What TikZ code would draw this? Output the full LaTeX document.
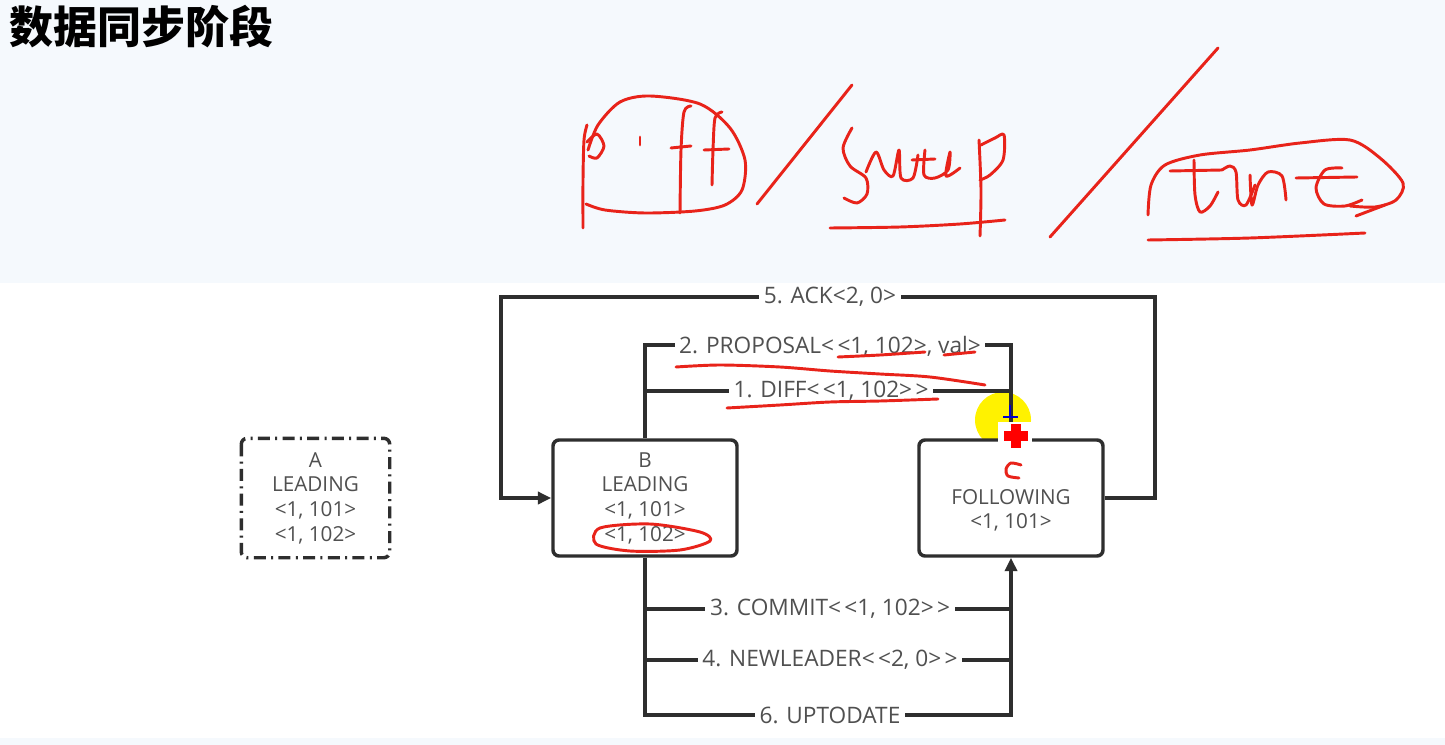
\documentclass[tikz,border=0pt]{standalone}
\usepackage{fontspec}
\setmainfont{Open Sans}
\newfontfamily\cjk{Noto Sans CJK SC}
\usetikzlibrary{arrows.meta}
\definecolor{ln}{HTML}{2E2E2E}
\definecolor{tx}{HTML}{505050}
\definecolor{topbg}{HTML}{F5F9FD}
\definecolor{pen}{HTML}{E8231A}
\definecolor{hl}{HTML}{FFF200}
\newcommand{\lla}{<\kern2.5pt<}
\newcommand{\rra}{>\kern2.5pt>}
\begin{document}
\begin{tikzpicture}[x=0.75pt,y=-0.75pt,
  conn/.style={draw=ln,line width=2.6pt},
  tip/.style={-{Triangle[length=10pt,width=9pt]}},
  box/.style={draw=ln,line width=2.6pt,rounded corners=4.5pt,fill=white,
    minimum width=138pt,minimum height=87pt,align=center,text=tx,
    font=\fontsize{15.5}{18.5}\selectfont,inner sep=0pt},
  lbl/.style={fill=white,text=tx,inner xsep=3.5pt,inner ysep=2pt,font=\fontsize{17}{20}\selectfont},
  ink/.style={draw=pen,line width=2.2pt,line cap=round,line join=round}]
\useasboundingbox (0,0) rectangle (1445,745);
\fill[white] (0,0) rectangle (1445,745);
\fill[topbg] (0,0) rectangle (1445,283);
\fill[topbg] (0,738) rectangle (1445,745);

\node[anchor=west,font=\cjk\bfseries\fontsize{33}{36}\selectfont] (title) at (5,27) {数据同步阶段};

% cursor highlight
\fill[hl] (1003,420) circle (28);

% nodes
\node[box,draw=none,fill=none,minimum width=108.75pt] (A) at (315.5,498) {A\\LEADING\\<1, 101>\\<1, 102>};
\draw[ln,line width=2.6pt,rounded corners=4.5pt,dash pattern=on 9pt off 4pt on 1.5pt off 4pt] (A.north west) rectangle (A.south east);
\node[box] (B) at (645,498) {B\\LEADING\\<1, 101>\\<1, 102>};
\node[box] (C) at (1011,498) {\textcolor{white}{C}\\FOLLOWING\\<1, 101>};

% coordinates
\coordinate (ackR) at (1155,297);
\coordinate (ackL) at (501,297);
\coordinate (prop) at (830,345);
\coordinate (diffL) at (645,391);
\coordinate (diffR) at (1011,391);
\coordinate (upd) at (830,715);
\coordinate (comL) at (645,609);
\coordinate (comR) at (1011,609);
\coordinate (nlL) at (645,660);
\coordinate (nlR) at (1011,660);

% connectors
\draw[conn,tip] (C.east) -| (ackR) -- (ackL) |- (B.west);
\draw[conn,tip] (B.north) |- (prop) -| (C.north);
\draw[conn] (diffL) -- (diffR);
\draw[conn,tip] (B.south) |- (upd) -| (C.south);
\draw[conn] (comL) -- (comR);
\draw[conn] (nlL) -- (nlR);

% labels
\node[lbl] (lack) at (830,297) {5. ACK<2, 0>};
\node[lbl] (lprop) at (830,346) {2. PROPOSAL\lla1, 102>, val>};
\node[lbl] (ldiff) at (831,391) {1. DIFF\lla1, 102\rra};
\node[lbl] (lcom) at (830,609) {3. COMMIT\lla1, 102\rra};
\node[lbl] (lnl) at (830,660) {4. NEWLEADER\lla2, 0\rra};
\node[lbl] (lupd) at (830,715) {6. UPTODATE};

% cursor marks
\draw[blue!80!black,line width=1.5pt] (1010,405) -- (1010,416) (1003,417) -- (1018,417);
\fill[white] (998,422) rectangle (1032,450);
\fill[red] (1011,424) rectangle (1021,448);
\fill[red] (1004,431) rectangle (1028,441);

% handwriting: diff
\draw[ink] plot[smooth] coordinates {(583,228) (583,180) (584,140) (587,125)};
\draw[ink] plot[smooth] coordinates {(587,142) (597,134) (604,146) (597,158) (589,156)};
\draw[ink] (640,137) -- (640,145);
\draw[ink] plot[smooth] coordinates {(691,106) (684,112) (681,150) (680,213)};
\draw[ink] (671,148) -- (691,146);
\draw[ink] plot[smooth] coordinates {(722,112) (715,118) (713,150) (712,185)};
\draw[ink] (704,150) -- (729,149);
\draw[ink] plot[smooth] coordinates {(588,150) (598,125) (620,102) (650,96) (700,104) (730,128) (745,160) (742,190) (725,205) (695,211) (645,213) (605,210) (586,204)};
% slash
\draw[ink] (757,204) -- (852,85);
% snap
\draw[ink] plot[smooth] coordinates {(852,128) (843,148) (850,166) (866,178) (867,194) (857,203) (844,198)};
\draw[ink] plot[smooth] coordinates {(866,172) (876,152) (884,170) (893,176) (899,150) (901,178) (913,178) (918,155)};
\draw[ink] plot[smooth] coordinates {(912,160) (935,159)};
\draw[ink] plot[smooth] coordinates {(925,150) (924,175) (935,178) (948,170) (950,152) (946,176) (960,168)};
\draw[ink] plot[smooth] coordinates {(979,140) (981,190) (980,236)};
\draw[ink] plot[smooth] coordinates {(981,145) (995,138) (1004,135) (1003,160) (990,175) (980,180)};
\draw[ink] plot[smooth] coordinates {(830,228) (900,227) (960,224) (1005,220)};
% slash
\draw[ink] (1218,48) -- (1050,237);
% trunc
\draw[ink] plot[smooth] coordinates {(1194,160) (1195,195) (1200,212) (1210,206) (1218,192)};
\draw[ink] (1170,171) -- (1222,170);
\draw[ink] plot[smooth] coordinates {(1222,170) (1230,166) (1236,172) (1238,200) (1246,205) (1255,185)};
\draw[ink] plot[smooth] coordinates {(1250,175) (1252,205) (1258,185) (1268,172) (1282,176) (1286,200)};
\draw[ink] (1296,178) -- (1357,177);
\draw[ink] plot[smooth] coordinates {(1342,168) (1325,170) (1316,188) (1324,204) (1345,206) (1362,200)};
\draw[ink] plot[smooth] coordinates {(1148,215) (1151,185) (1165,165) (1200,155) (1250,150) (1300,143) (1350,140) (1380,158) (1403,183) (1396,200) (1375,207) (1350,206)};
\draw[ink] (1385,205) -- (1356,216);
\draw[ink] plot[smooth] coordinates {(1148,240) (1250,238) (1365,233)};

% handwriting on diagram
\draw[ink] plot[smooth] coordinates {(838,357) (880,355) (925,352)};
\draw[ink] plot[smooth] coordinates {(944,355) (975,352)};
\draw[ink] plot[smooth] coordinates {(676,367) (720,365) (780,367) (830,371) (880,374) (930,377) (985,385)};
\draw[ink] plot[smooth] coordinates {(727,408) (780,405) (830,402) (880,401) (938,399)};
\draw[ink] plot[smooth cycle] coordinates {(600,528) (650,524) (700,532) (710,541) (680,550) (630,551) (596,544)};
\draw[ink] plot[smooth] coordinates {(1021,465) (1011,463) (1006,469) (1008,476) (1019,478)};
\end{tikzpicture}
\end{document}
